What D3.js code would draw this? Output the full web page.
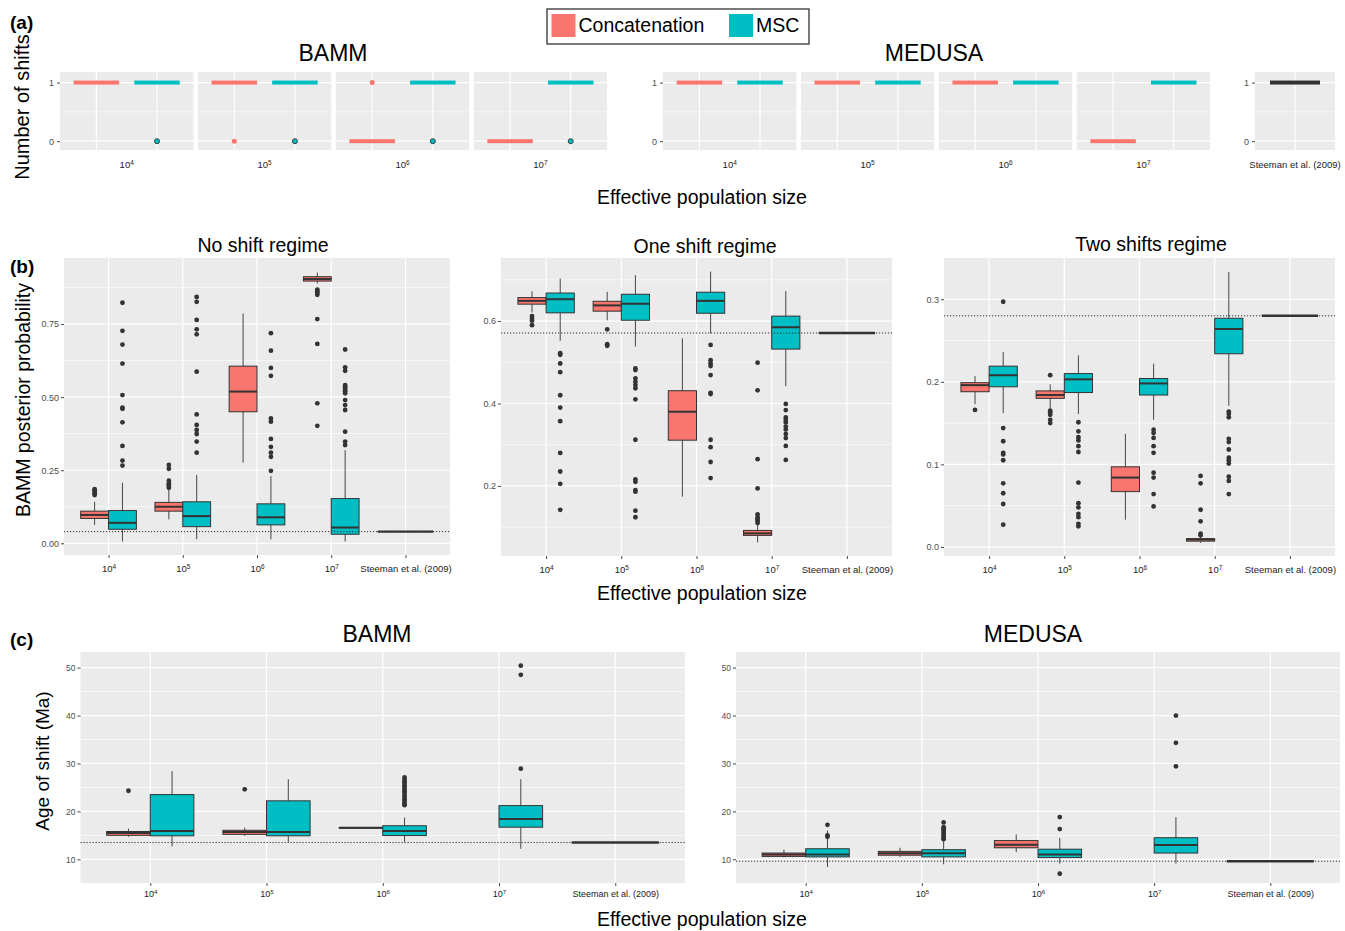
<!DOCTYPE html>
<html>
<head>
<meta charset="UTF-8">
<title>Rate shifts by effective population size</title>
<script src="https://d3js.org/d3.v7.min.js"></script>
<style>
  body { margin: 0; background: #fff; }
  text { font-family: "Liberation Sans", Arial, sans-serif; }
</style>
</head>
<body>
<div id="chart"></div>
<script>
// ---- data ----
// x categories: effective population size 10^4 .. 10^7, plus the empirical study
var neExponents = ["4", "5", "6", "7"];
var steemanLabel = "Steeman et al. (2009)";
var methods = ["Concatenation", "MSC"];

// (a) number of shifts recovered (box value and outlier values per Ne)
var bammConcatShifts = [1, 1, 0, 0];
var bammConcatShiftOut = [[], [0], [1], []];
var bammMSCShifts = [1, 1, 1, 1];
var bammMSCShiftOut = [[0], [0], [0], [0]];
var medusaConcatShifts = [1, 1, 1, 0];
var medusaMSCShifts = [1, 1, 1, 1];
var steemanShifts = 1;

// (b) BAMM posterior probability, boxes are [lower whisker, q1, median, q3, upper whisker]
var noShiftConcat = [
  [0.063, 0.085, 0.097, 0.110, 0.142],
  [0.082, 0.110, 0.125, 0.140, 0.182],
  [0.276, 0.450, 0.519, 0.606, 0.786],
  [0.889, 0.897, 0.904, 0.912, 0.926]
];
var noShiftConcatOut = [
  [0.165, 0.170, 0.176, 0.181, 0.185],
  [0.190, 0.196, 0.200, 0.205, 0.214, 0.255, 0.268],
  [],
  [0.850, 0.856, 0.862, 0.868, 0.767, 0.682, 0.479, 0.402]
];
var noShiftMSC = [
  [0.006, 0.048, 0.070, 0.112, 0.207],
  [0.014, 0.057, 0.093, 0.142, 0.234],
  [0.014, 0.063, 0.089, 0.135, 0.230],
  [0.006, 0.031, 0.054, 0.153, 0.319]
];
var noShiftMSCOut = [
  [0.823, 0.727, 0.680, 0.615, 0.507, 0.464, 0.460, 0.414, 0.333, 0.283, 0.266],
  [0.843, 0.826, 0.764, 0.732, 0.715, 0.587, 0.441, 0.405, 0.388, 0.374, 0.348, 0.310],
  [0.719, 0.659, 0.600, 0.573, 0.427, 0.416, 0.357, 0.330, 0.310, 0.296, 0.248],
  [0.663, 0.602, 0.590, 0.541, 0.534, 0.527, 0.520, 0.513, 0.490, 0.473, 0.456, 0.382, 0.348, 0.336]
];
var noShiftSteeman = 0.04;

var oneShiftConcat = [
  [0.621, 0.641, 0.649, 0.657, 0.672],
  [0.602, 0.624, 0.638, 0.648, 0.671],
  [0.174, 0.311, 0.380, 0.431, 0.558],
  [0.063, 0.080, 0.085, 0.092, 0.105]
];
var oneShiftConcatOut = [
  [0.612, 0.606, 0.601, 0.590],
  [0.580, 0.544, 0.540],
  [],
  [0.499, 0.432, 0.265, 0.194, 0.131, 0.124, 0.119, 0.115, 0.110]
];
var oneShiftMSC = [
  [0.552, 0.620, 0.653, 0.668, 0.703],
  [0.538, 0.602, 0.642, 0.665, 0.711],
  [0.570, 0.619, 0.649, 0.670, 0.720],
  [0.442, 0.532, 0.585, 0.612, 0.673]
];
var oneShiftMSCOut = [
  [0.522, 0.518, 0.497, 0.476, 0.420, 0.390, 0.357, 0.280, 0.235, 0.205, 0.142],
  [0.485, 0.481, 0.461, 0.453, 0.445, 0.437, 0.410, 0.312, 0.216, 0.210, 0.190, 0.186, 0.140, 0.124],
  [0.542, 0.505, 0.497, 0.491, 0.469, 0.426, 0.423, 0.312, 0.294, 0.258, 0.219],
  [0.399, 0.384, 0.366, 0.360, 0.354, 0.344, 0.337, 0.326, 0.316, 0.297, 0.263]
];
var oneShiftSteeman = 0.571;

var twoShiftConcat = [
  [0.173, 0.188, 0.196, 0.199, 0.207],
  [0.168, 0.180, 0.184, 0.189, 0.197],
  [0.033, 0.067, 0.084, 0.097, 0.137],
  [0.005, 0.007, 0.009, 0.010, 0.013]
];
var twoShiftConcatOut = [
  [0.166],
  [0.208, 0.165, 0.163, 0.160, 0.154, 0.150],
  [],
  [0.086, 0.077, 0.045, 0.031, 0.016, 0.014]
];
var twoShiftMSC = [
  [0.162, 0.194, 0.208, 0.219, 0.236],
  [0.161, 0.187, 0.203, 0.210, 0.232],
  [0.154, 0.184, 0.198, 0.204, 0.222],
  [0.171, 0.234, 0.264, 0.277, 0.333]
];
var twoShiftMSCOut = [
  [0.297, 0.144, 0.128, 0.114, 0.112, 0.105, 0.077, 0.065, 0.052, 0.027],
  [0.151, 0.140, 0.133, 0.129, 0.122, 0.115, 0.078, 0.053, 0.048, 0.040, 0.036, 0.028, 0.025],
  [0.142, 0.138, 0.132, 0.122, 0.114, 0.090, 0.084, 0.064, 0.049],
  [0.164, 0.161, 0.157, 0.131, 0.127, 0.118, 0.108, 0.105, 0.101, 0.085, 0.080, 0.064]
];
var twoShiftSteeman = 0.28;

// (c) age of shift (Ma)
var bammAgeConcat = [
  [14.7, 15.0, 15.5, 15.8, 16.4],
  [14.9, 15.2, 15.7, 16.05, 16.6],
  [16.6, 16.6, 16.6, 16.6, 16.6],
  null
];
var bammAgeConcatOut = [[24.3], [24.6], [], []];
var bammAgeMSC = [
  [12.7, 14.9, 15.9, 23.5, 28.4],
  [13.6, 14.9, 15.7, 22.2, 26.7],
  [13.6, 14.95, 15.9, 17.0, 18.7],
  [12.2, 16.7, 18.4, 21.2, 26.7]
];
var bammAgeMSCOut = [
  [],
  [],
  [27.1, 26.6, 26.2, 25.9, 25.4, 25.1, 24.6, 24.2, 23.9, 23.4, 23.0, 22.6, 22.3, 21.8, 21.5, 21.3],
  [50.4, 48.5, 28.9]
];
var bammAgeSteeman = 13.5;

var medusaAgeConcat = [
  [10.4, 10.6, 11.0, 11.3, 12.0],
  [10.5, 10.85, 11.25, 11.65, 12.4],
  [11.5, 12.4, 13.05, 13.9, 15.2],
  null
];
var medusaAgeConcatOut = [[], [], [], []];
var medusaAgeMSC = [
  [8.4, 10.5, 11.0, 12.2, 16.0],
  [8.95, 10.5, 11.25, 12.0, 15.9],
  [9.1, 10.35, 11.0, 12.1, 14.45],
  [9.1, 11.3, 13.0, 14.5, 18.8]
];
var medusaAgeMSCOut = [
  [17.2, 15.0, 14.7],
  [17.7, 16.7, 16.4, 16.1, 15.7, 15.3, 14.9, 14.5, 14.2],
  [18.8, 16.3, 7.0],
  [40.0, 34.3, 29.4]
];
var medusaAgeSteeman = 9.6;

// ---- drawing ----
var colors = d3.scaleOrdinal().domain(methods).range(["#F8766D", "#00BFC4"]);
var panelBg = "#EBEBEB", ink = "#333333", tickInk = "#4D4D4D";
var catKeys = neExponents.concat(["S"]);

var svg = d3.select("#chart").append("svg")
    .attr("width", 1345)
    .attr("height", 931);

// "10" with a superscript exponent, or the study name
function neText(sel, key) {
  sel.text(null);
  if (key === "S") { sel.text(steemanLabel); return; }
  sel.append("tspan").text("10");
  sel.append("tspan").attr("font-size", "0.68em").attr("dy", "-0.5em").text(key);
}

function styleAxis(g, size) {
  g.select(".domain").remove();
  g.selectAll(".tick line").attr("stroke", ink).attr("stroke-width", 0.9);
  g.selectAll(".tick text").attr("fill", tickInk).attr("font-size", size)
      .attr("font-family", "Liberation Sans, Arial, sans-serif");
}

function gridBg(g, x0, x1, y0, y1, y, major, minor) {
  g.append("rect").attr("x", x0).attr("y", y0).attr("width", x1 - x0).attr("height", y1 - y0)
      .attr("fill", panelBg);
  g.selectAll(null).data(minor).enter().append("line")
      .attr("x1", x0).attr("x2", x1).attr("y1", y).attr("y2", y)
      .attr("stroke", "#fff").attr("stroke-width", 0.6);
  g.selectAll(null).data(major).enter().append("line")
      .attr("x1", x0).attr("x2", x1).attr("y1", y).attr("y2", y)
      .attr("stroke", "#fff").attr("stroke-width", 1.2);
}

function drawBox(g, y, cx, hw, s, fill, outs) {
  g.selectAll(null).data(outs).enter().append("circle")
      .attr("cx", cx).attr("cy", function(d) { return y(d); })
      .attr("r", 2.4).attr("fill", ink);
  g.append("line").attr("x1", cx).attr("x2", cx).attr("y1", y(s[4])).attr("y2", y(s[3]))
      .attr("stroke", ink).attr("stroke-width", 0.9);
  g.append("line").attr("x1", cx).attr("x2", cx).attr("y1", y(s[1])).attr("y2", y(s[0]))
      .attr("stroke", ink).attr("stroke-width", 0.9);
  g.append("rect").attr("x", cx - hw).attr("y", y(s[3])).attr("width", 2 * hw)
      .attr("height", Math.max(y(s[1]) - y(s[3]), 0.6))
      .attr("fill", fill).attr("stroke", ink).attr("stroke-width", 1);
  g.append("line").attr("x1", cx - hw).attr("x2", cx + hw).attr("y1", y(s[2])).attr("y2", y(s[2]))
      .attr("stroke", ink).attr("stroke-width", 2);
}

// box panel used for (b) and (c)
function boxPanel(p) {
  var g = svg.append("g");
  var y = d3.scaleLinear().domain(p.domain).range([p.y1, p.y0]);
  var x = d3.scalePoint().domain(catKeys).range([p.x0, p.x1]).padding(0.6);
  var step = x.step();
  gridBg(g, p.x0, p.x1, p.y0, p.y1, y, p.major, p.minor);
  g.selectAll(null).data(catKeys).enter().append("line")
      .attr("x1", x).attr("x2", x).attr("y1", p.y0).attr("y2", p.y1)
      .attr("stroke", "#fff").attr("stroke-width", 1.2);

  neExponents.forEach(function(k, i) {
    if (p.concat[i]) drawBox(g, y, x(k) - step * 0.1875, step * 0.1875, p.concat[i], colors("Concatenation"), p.concatOut[i]);
    drawBox(g, y, x(k) + step * 0.1875, step * 0.1875, p.msc[i], colors("MSC"), p.mscOut[i]);
  });
  // empirical estimate: a single value, so a flat box
  g.append("line").attr("x1", x("S") - step * 0.375).attr("x2", x("S") + step * 0.375)
      .attr("y1", y(p.steeman)).attr("y2", y(p.steeman))
      .attr("stroke", ink).attr("stroke-width", 2.4);
  // dotted reference line at the empirical value
  g.append("line").attr("x1", p.x0).attr("x2", p.x1)
      .attr("y1", y(p.steeman)).attr("y2", y(p.steeman))
      .attr("stroke", ink).attr("stroke-width", 1).attr("stroke-dasharray", "1.2,1.8");

  var ya = g.append("g").attr("transform", "translate(" + p.x0 + ",0)")
      .call(d3.axisLeft(y).tickValues(p.major).tickSize(3).tickPadding(2).tickFormat(p.fmt));
  styleAxis(ya, p.ySize);
  var xa = g.append("g").attr("transform", "translate(0," + p.y1 + ")")
      .call(d3.axisBottom(x).tickSize(3).tickPadding(p.xPad));
  styleAxis(xa, p.xSize);
  xa.selectAll(".tick text").attr("fill", "#222").each(function(d) { neText(d3.select(this), d); });
}

// facet strip used for (a)
function shiftFacet(x0, x1, vals, outs, labelKey, axis) {
  var g = svg.append("g");
  var y = d3.scaleLinear().domain([-0.15, 1.18]).range([150, 72]);
  var x = d3.scalePoint().domain(vals.map(function(d, i) { return i; })).range([x0, x1]).padding(0.6);
  var step = x.step();
  gridBg(g, x0, x1, 72, 150, y, [0, 1], [0.5]);
  g.selectAll(null).data(vals).enter().append("line")
      .attr("x1", function(d, i) { return x(i); }).attr("x2", function(d, i) { return x(i); })
      .attr("y1", 72).attr("y2", 150)
      .attr("stroke", "#fff").attr("stroke-width", 1.2);
  vals.forEach(function(v, i) {
    var c = v.color;
    g.append("rect").attr("x", x(i) - step * 0.375).attr("y", y(v.value) - 2)
        .attr("width", step * 0.75).attr("height", 4).attr("fill", c);
    g.selectAll(null).data(outs[i] || []).enter().append("circle")
        .attr("cx", x(i)).attr("cy", function(d) { return y(d); })
        .attr("r", 2.5).attr("fill", c)
        .attr("stroke", c === colors("MSC") ? ink : "none").attr("stroke-width", 0.9);
  });
  if (axis) {
    var ya = g.append("g").attr("transform", "translate(" + x0 + ",0)")
        .call(d3.axisLeft(y).tickValues([0, 1]).tickSize(3).tickPadding(3).tickFormat(d3.format("d")));
    styleAxis(ya, 9);
  }
  g.append("text").attr("x", (x0 + x1) / 2).attr("y", 168).attr("text-anchor", "middle")
      .attr("font-size", 9.5).attr("fill", "#222")
      .call(neText, labelKey);
}

function label(x, y, txt, size, opts) {
  opts = opts || {};
  var t = svg.append("text").attr("x", x).attr("y", y).attr("font-size", size)
      .attr("text-anchor", opts.anchor || "middle").attr("fill", opts.fill || "#000")
      .attr("font-weight", opts.bold ? "bold" : null).text(txt);
  if (opts.rotate) t.attr("transform", "rotate(-90," + x + "," + y + ")");
  return t;
}

// ---- (a) ----
var facetW = 133.4, facetGap = 4.5;
neExponents.forEach(function(k, i) {
  var bx = 60 + i * (facetW + facetGap);
  shiftFacet(bx, bx + facetW,
      [{ value: bammConcatShifts[i], color: colors("Concatenation") }, { value: bammMSCShifts[i], color: colors("MSC") }],
      [bammConcatShiftOut[i], bammMSCShiftOut[i]], k, i === 0);
  var mx = 663 + i * (facetW + facetGap);
  shiftFacet(mx, mx + facetW,
      [{ value: medusaConcatShifts[i], color: colors("Concatenation") }, { value: medusaMSCShifts[i], color: colors("MSC") }],
      [[], []], k, i === 0);
});
shiftFacet(1255, 1335, [{ value: steemanShifts, color: ink }], [[]], "S", true);

label(10, 29, "(a)", 19, { anchor: "start", bold: true });
label(333, 61, "BAMM", 23);
label(934, 61, "MEDUSA", 23);
label(29, 107, "Number of shifts", 20, { rotate: true });
label(702, 204, "Effective population size", 19.5);

// legend
var legend = svg.append("g");
legend.append("rect").attr("x", 547).attr("y", 9).attr("width", 262).attr("height", 35)
    .attr("fill", "#fff").attr("stroke", ink).attr("stroke-width", 1.3);
var legendX = [551.5, 729];
methods.forEach(function(m, i) {
  legend.append("rect").attr("x", legendX[i]).attr("y", 14).attr("width", 24).attr("height", 23)
      .attr("fill", colors(m));
  legend.append("text").attr("x", legendX[i] + 27).attr("y", 32).attr("font-size", 19.5).text(m);
});

// ---- (b) ----
boxPanel({ x0: 64, x1: 450, y0: 258, y1: 555, domain: [-0.04, 0.976],
  major: [0, 0.25, 0.5, 0.75], minor: [0.125, 0.375, 0.625, 0.875], fmt: d3.format(".2f"),
  concat: noShiftConcat, concatOut: noShiftConcatOut, msc: noShiftMSC, mscOut: noShiftMSCOut,
  steeman: noShiftSteeman, ySize: 9, xSize: 9.5, xPad: 7 });
boxPanel({ x0: 501, x1: 892, y0: 258, y1: 556, domain: [0.03, 0.753],
  major: [0.2, 0.4, 0.6], minor: [0.1, 0.3, 0.5, 0.7], fmt: d3.format(".1f"),
  concat: oneShiftConcat, concatOut: oneShiftConcatOut, msc: oneShiftMSC, mscOut: oneShiftMSCOut,
  steeman: oneShiftSteeman, ySize: 9, xSize: 9.5, xPad: 7 });
boxPanel({ x0: 944, x1: 1335, y0: 258, y1: 556, domain: [-0.011, 0.35],
  major: [0, 0.1, 0.2, 0.3], minor: [0.05, 0.15, 0.25], fmt: d3.format(".1f"),
  concat: twoShiftConcat, concatOut: twoShiftConcatOut, msc: twoShiftMSC, mscOut: twoShiftMSCOut,
  steeman: twoShiftSteeman, ySize: 9, xSize: 9.5, xPad: 7 });

label(10, 273, "(b)", 19, { anchor: "start", bold: true });
label(263, 252, "No shift regime", 19.5);
label(705, 252.5, "One shift regime", 19.5);
label(1151, 251, "Two shifts regime", 19.5);
label(30, 400, "BAMM posterior probability", 19.5, { rotate: true });
label(702, 600, "Effective population size", 19.5);

// ---- (c) ----
boxPanel({ x0: 80.5, x1: 685, y0: 652, y1: 883, domain: [5.05, 53.26],
  major: [10, 20, 30, 40, 50], minor: [15, 25, 35, 45], fmt: d3.format("d"),
  concat: bammAgeConcat, concatOut: bammAgeConcatOut, msc: bammAgeMSC, mscOut: bammAgeMSCOut,
  steeman: bammAgeSteeman, ySize: 8.5, xSize: 9, xPad: 5 });
boxPanel({ x0: 736, x1: 1340, y0: 652, y1: 883, domain: [5.05, 53.26],
  major: [10, 20, 30, 40, 50], minor: [15, 25, 35, 45], fmt: d3.format("d"),
  concat: medusaAgeConcat, concatOut: medusaAgeConcatOut, msc: medusaAgeMSC, mscOut: medusaAgeMSCOut,
  steeman: medusaAgeSteeman, ySize: 8.5, xSize: 9, xPad: 5 });

label(10, 646, "(c)", 19, { anchor: "start", bold: true });
label(377, 641.5, "BAMM", 23);
label(1033, 641.5, "MEDUSA", 23);
label(49, 761, "Age of shift (Ma)", 19, { rotate: true });
label(702, 926, "Effective population size", 19.5);
</script>
</body>
</html>
